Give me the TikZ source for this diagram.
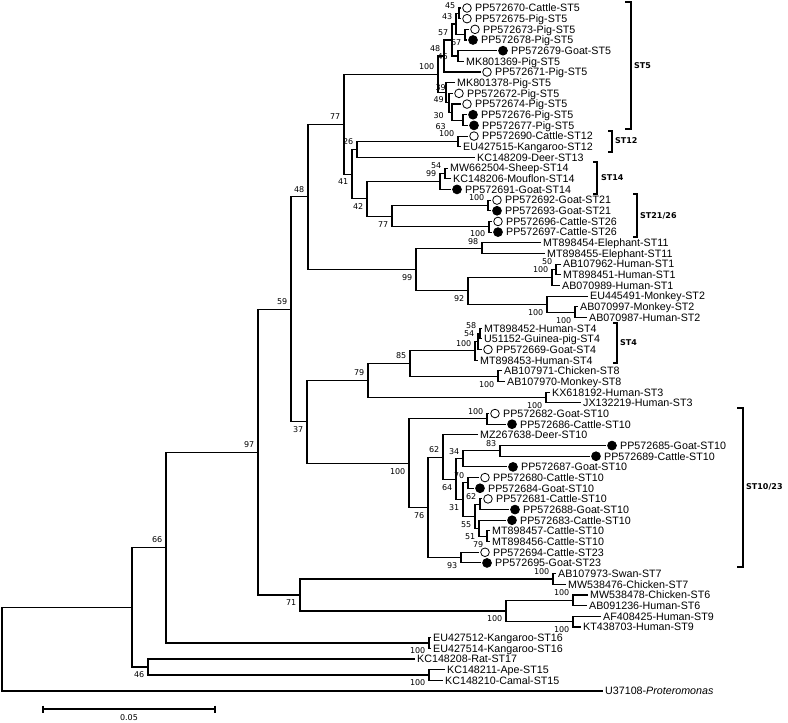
\documentclass[tikz,border=0pt]{standalone}
\usepackage{fontspec}
\setmainfont{Liberation Sans}
\newfontfamily\bsfont{DejaVu Sans}
\usetikzlibrary{calc}
\newcommand\LY[1]{{8+(#1-1)*10.672}}
\tikzset{
  br/.style={line width=1.1pt, line join=miter},
  bk/.style={line width=1.2pt},
  lab/.style={anchor=west, inner sep=0pt, font=\fontsize{10.7}{12}\selectfont, text height=7.7pt, text depth=0pt},
  bs/.style={anchor=east, inner sep=0pt, font=\bsfont\fontsize{8}{9}\selectfont, text height=5.8pt, text depth=0pt},
  cl/.style={anchor=west, inner sep=0pt, font=\bsfont\bfseries\fontsize{8}{9}\selectfont, text height=5.8pt, text depth=0pt},
  opc/.style={circle, draw, line width=0.8pt, fill=white, minimum size=8.6pt, inner sep=0pt},
  flc/.style={circle, draw, line width=0.8pt, fill=black, minimum size=8.8pt, inner sep=0pt},
}
\newcommand\leafn[3]{\coordinate (L#1) at (#2,\LY{#1}); \node[lab] (t#1) at (#2+2,\LY{#1}) {#3};}
\newcommand\leafo[3]{\coordinate (L#1) at (#2,\LY{#1}); \node[opc] (m#1) at (#2+6,\LY{#1}) {}; \node[lab] (t#1) at (#2+14,\LY{#1}) {#3};}
\newcommand\leaff[3]{\coordinate (L#1) at (#2,\LY{#1}); \node[flc] (m#1) at (#2+6,\LY{#1}) {}; \node[lab] (t#1) at (#2+14,\LY{#1}) {#3};}
\newcommand\inode[4]{\path let \p1=($(#3)!.5!(#4)$) in (#2pt,\y1) coordinate (#1); \draw[br] (#3) -| (#1) |- (#4);}
\newcommand\bsa[2]{\node[bs] (bs#1) at ($(#1)+(-3.5,-7.5)$) {#2};}
\newcommand\bsb[2]{\node[bs] (bs#1) at ($(#1)+(-3.5,8)$) {#2};}
\newcommand\bracket[5]{\coordinate (#1t) at (#2,#3); \coordinate (#1b) at (#2,#4); \draw[bk] ([xshift=-#5pt]#1t) -- (#1t) -- (#1b) -- ([xshift=-#5pt]#1b);}
\begin{document}
\begin{tikzpicture}[x=1pt,y=-1pt]
\useasboundingbox (0,0) rectangle (788,723);
\fill[white] (0,0) rectangle (788,723);
% leaves
\leafo{1}{461}{PP572670-Cattle-ST5}
\leafo{2}{461}{PP572675-Pig-ST5}
\leafo{3}{469}{PP572673-Pig-ST5}
\leaff{4}{467}{PP572678-Pig-ST5}
\leaff{5}{497}{PP572679-Goat-ST5}
\leafn{6}{464}{MK801369-Pig-ST5}
\leafo{7}{481}{PP572671-Pig-ST5}
\leafn{8}{455}{MK801378-Pig-ST5}
\leafo{9}{453}{PP572672-Pig-ST5}
\leafo{10}{461}{PP572674-Pig-ST5}
\leaff{11}{467}{PP572676-Pig-ST5}
\leaff{12}{468}{PP572677-Pig-ST5}
\leafo{13}{468}{PP572690-Cattle-ST12}
\leafn{14}{461}{EU427515-Kangaroo-ST12}
\leafn{15}{475}{KC148209-Deer-ST13}
\leafn{16}{448}{MW662504-Sheep-ST14}
\leafn{17}{451}{KC148206-Mouflon-ST14}
\leaff{18}{451}{PP572691-Goat-ST14}
\leafo{19}{491}{PP572692-Goat-ST21}
\leaff{20}{491}{PP572693-Goat-ST21}
\leafo{21}{492}{PP572696-Cattle-ST26}
\leaff{22}{492}{PP572697-Cattle-ST26}
\leafn{23}{541}{MT898454-Elephant-ST11}
\leafn{24}{545}{MT898455-Elephant-ST11}
\leafn{25}{561}{AB107962-Human-ST1}
\leafn{26}{561}{MT898451-Human-ST1}
\leafn{27}{560}{AB070989-Human-ST1}
\leafn{28}{588}{EU445491-Monkey-ST2}
\leafn{29}{578}{AB070997-Monkey-ST2}
\leafn{30}{587}{AB070987-Human-ST2}
\leafn{31}{482}{MT898452-Human-ST4}
\leafn{32}{482}{U51152-Guinea-pig-ST4}
\leafo{33}{482}{PP572669-Goat-ST4}
\leafn{34}{478}{MT898453-Human-ST4}
\leafn{35}{502}{AB107971-Chicken-ST8}
\leafn{36}{505}{AB107970-Monkey-ST8}
\leafn{37}{550}{KX618192-Human-ST3}
\leafn{38}{581}{JX132219-Human-ST3}
\leafo{39}{489}{PP572682-Goat-ST10}
\leaff{40}{506}{PP572686-Cattle-ST10}
\leafn{41}{478}{MZ267638-Deer-ST10}
\leaff{42}{606}{PP572685-Goat-ST10}
\leaff{43}{590}{PP572689-Cattle-ST10}
\leaff{44}{507}{PP572687-Goat-ST10}
\leafo{45}{479}{PP572680-Cattle-ST10}
\leaff{46}{474}{PP572684-Goat-ST10}
\leafo{47}{482}{PP572681-Cattle-ST10}
\leaff{48}{509}{PP572688-Goat-ST10}
\leaff{49}{506}{PP572683-Cattle-ST10}
\leafn{50}{490}{MT898457-Cattle-ST10}
\leafn{51}{490}{MT898456-Cattle-ST10}
\leafo{52}{479}{PP572694-Cattle-ST23}
\leaff{53}{481}{PP572695-Goat-ST23}
\leafn{54}{556}{AB107973-Swan-ST7}
\leafn{55}{566}{MW538476-Chicken-ST7}
\leafn{56}{588}{MW538478-Chicken-ST6}
\leafn{57}{587}{AB091236-Human-ST6}
\leafn{58}{601}{AF408425-Human-ST9}
\leafn{59}{581}{KT438703-Human-ST9}
\leafn{60}{431}{EU427512-Kangaroo-ST16}
\leafn{61}{431}{EU427514-Kangaroo-ST16}
\leafn{62}{415}{KC148208-Rat-ST17}
\leafn{63}{445}{KC148211-Ape-ST15}
\leafn{64}{443}{KC148210-Camal-ST15}
\leafn{65}{603}{U37108-\textit{Proteromonas}}
% ST5
\inode{n45}{459}{L1}{L2}
\inode{n67}{465}{L3}{L4}
\inode{n43}{456}{n45}{n67}
\inode{n56}{458}{L5}{L6}
\inode{n57}{452}{n43}{n56}
\inode{nA}{444}{n57}{L7}
\inode{n1112}{463}{L11}{L12}
\inode{nb}{452}{L10}{n1112}
\inode{na}{449}{L9}{nb}
\inode{nB}{446}{L8}{na}
\inode{r5}{438}{nA}{nB}
% ST12 - ST26
\inode{n12}{458}{L13}{L14}
\inode{n26}{357}{n12}{L15}
\inode{n54}{445}{L16}{L17}
\inode{n99s}{440}{n54}{L18}
\inode{n21}{488}{L19}{L20}
\inode{n26b}{489}{L21}{L22}
\inode{n77b}{392}{n21}{n26b}
\inode{n42}{367}{n99s}{n77b}
\inode{n41}{352}{n26}{n42}
\inode{n77}{344}{r5}{n41}
% ST11, ST1, ST2
\inode{n98}{482}{L23}{L24}
\inode{n50}{556}{L25}{L26}
\inode{n100a}{552}{n50}{L27}
\inode{n100b}{575}{L29}{L30}
\inode{n100c}{547}{L28}{n100b}
\inode{n92}{468}{n100a}{n100c}
\inode{n99}{416}{n98}{n92}
\inode{n48}{308}{n77}{n99}
% ST4, ST8, ST3
\inode{n58}{480}{L31}{L32}
\inode{n54b}{478}{n58}{L33}
\inode{n100e}{475}{n54b}{L34}
\inode{n8}{498}{L35}{L36}
\inode{n85}{410}{n100e}{n8}
\inode{n3}{546}{L37}{L38}
\inode{n79}{368}{n85}{n3}
% ST10/23
\inode{n100f}{487}{L39}{L40}
\inode{n83}{500}{L42}{L43}
\inode{n34b}{463}{n83}{L44}
\inode{n70}{468}{L45}{L46}
\inode{n62b}{480}{L47}{L48}
\inode{n79c}{487}{L50}{L51}
\inode{n51}{479}{L49}{n79c}
\inode{n55}{475}{n62b}{n51}
\inode{n31}{463}{n70}{n55}
\inode{n64}{456}{n34b}{n31}
\inode{n62}{443}{L41}{n64}
\inode{n93}{461}{L52}{L53}
\inode{n76}{428}{n62}{n93}
\inode{n100d}{409}{n100f}{n76}
\inode{n37}{307}{n79}{n100d}
\inode{n59}{291}{n48}{n37}
% ST7, ST6, ST9 and the base
\inode{n7}{553}{L54}{L55}
\inode{n6}{573}{L56}{L57}
\inode{n9}{573}{L58}{L59}
\inode{n100g}{506}{n6}{n9}
\inode{n71}{300}{n7}{n100g}
\inode{n97}{258}{n59}{n71}
\inode{n16}{429}{L60}{L61}
\inode{n66}{166}{n97}{n16}
\inode{n15}{429}{L63}{L64}
\inode{n46}{148}{L62}{n15}
\inode{n132}{132}{n66}{n46}
\inode{root}{2}{n132}{L65}
% bootstrap values
\bsa{n45}{45}
\bsa{n43}{43}
\bsb{n67}{67}
\bsa{n57}{57}
\node[bs] (bsn56) at (448,57) {46};
\bsa{nA}{48}
\bsa{r5}{100}
\node[bs] (bsq1) at (446,88) {39};
\node[bs] (bsq2) at (444,100) {49};
\node[bs] (bsq3) at (444,116) {30};
\node[bs] (bsq4) at (446,127) {63};
\bsa{n12}{100}
\bsa{n26}{26}
\bsa{n54}{54}
\bsa{n99s}{99}
\bsa{n21}{100}
\node[bs] (bsn26b) at ($(n26b)+(-3.5,6.6)$) {100};
\bsb{n77b}{77}
\bsb{n42}{42}
\bsb{n41}{41}
\bsa{n77}{77}
\node[bs] (bsn98) at ($(n98)+(-3.5,-6.4)$) {98};
\bsa{n50}{50}
\bsa{n100a}{100}
\bsb{n100b}{100}
\bsb{n100c}{100}
\bsb{n92}{92}
\bsb{n99}{99}
\bsa{n48}{48}
\bsa{n58}{58}
\bsa{n54b}{54}
\bsa{n100e}{100}
\bsb{n8}{100}
\bsa{n85}{85}
\bsb{n3}{100}
\bsa{n79}{79}
\bsa{n100f}{100}
\bsa{n83}{83}
\bsa{n34b}{34}
\bsa{n70}{70}
\bsa{n62b}{62}
\bsb{n79c}{79}
\bsb{n51}{51}
\bsb{n55}{55}
\bsb{n31}{31}
\bsb{n64}{64}
\bsa{n62}{62}
\bsb{n93}{93}
\bsb{n76}{76}
\bsb{n100d}{100}
\bsb{n37}{37}
\bsa{n59}{59}
\bsa{n7}{100}
\bsa{n6}{100}
\bsb{n9}{100}
\bsb{n100g}{100}
\bsb{n71}{71}
\bsa{n97}{97}
\bsb{n16}{100}
\bsa{n66}{66}
\bsb{n15}{100}
\bsb{n46}{46}
% clade brackets
\bracket{k5}{631}{2}{129}{6}
\node[cl] (c5) at (634,66) {ST5};
\bracket{k12}{612}{131}{152}{4}
\node[cl] (c12) at (615,141) {ST12};
\bracket{k14}{597}{162}{194}{4}
\node[cl] (c14) at (601,178) {ST14};
\bracket{k21}{637}{194}{237}{4}
\node[cl] (c21) at (640,216) {ST21/26};
\bracket{k4}{617}{323}{363}{4}
\node[cl] (c4) at (620,343) {ST4};
\bracket{k10}{743}{408}{567}{6}
\node[cl] (c10) at (746,487) {ST10/23};
% scale bar
\coordinate (s1) at (43,709);
\coordinate (s2) at (215,709);
\draw[br] (s1) -- (s2);
\draw[br] ([yshift=3.5pt]s1) -- ([yshift=-3.5pt]s1);
\draw[br] ([yshift=3.5pt]s2) -- ([yshift=-3.5pt]s2);
\node[bs, anchor=center] (sbl) at (129,718) {0.05};
\end{tikzpicture}
\end{document}
